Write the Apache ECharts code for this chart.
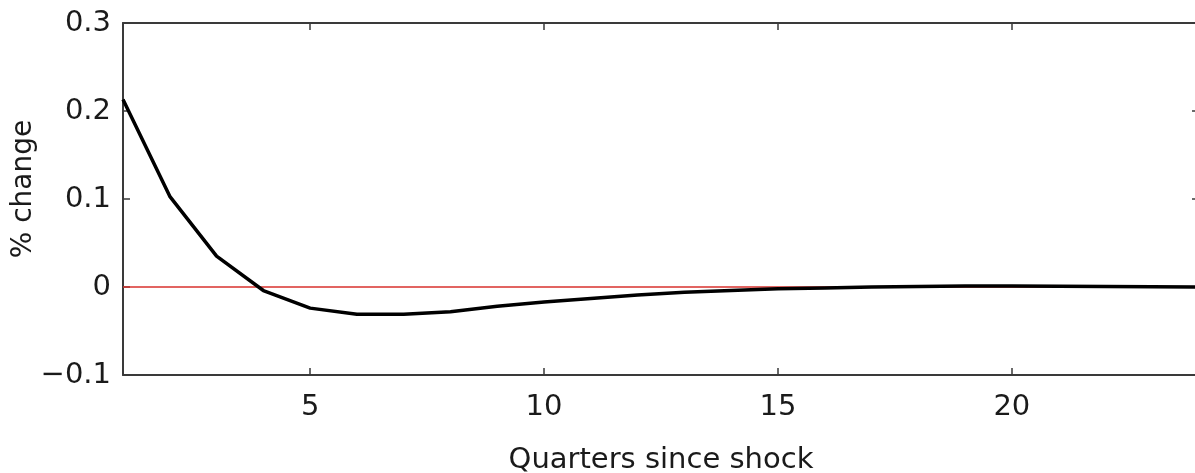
<!DOCTYPE html>
<html>
<head>
<meta charset="utf-8">
<script src="https://cdn.jsdelivr.net/npm/echarts@6/dist/echarts.min.js"></script>
<style>html,body{margin:0;padding:0;background:#fff;}#c{width:1195px;height:473px;}</style>
</head>
<body>
<div id="c"></div>
<script>
var quarters = [1,2,3,4,5,6,7,8,9,10,11,12,13,14,15,16,17,18,19,20,21,22,23,24];
var response = [0.213,0.103,0.035,-0.004,-0.024,-0.031,-0.031,-0.028,-0.022,-0.017,-0.013,-0.009,-0.006,-0.004,-0.002,-0.001,0.0,0.0005,0.001,0.001,0.0008,0.0005,0.0003,0.0];
var xTicks = [5,10,15,20];
var yTicks = [-0.1,0,0.1,0.2,0.3];
var zeroLine = [[1,0],[24,0]];

var font = '"DejaVu Sans", Verdana, sans-serif';
var axisCol = '#3a3a3a';
var txtCol = '#1a1a1a';
var chart = echarts.init(document.getElementById('c'));
function yFmt(v){ if (Math.abs(v) < 1e-9) return '0'; var s = (Math.round(v*10)/10).toFixed(1); return s.replace('-', '\u2212'); }
chart.setOption({
  animation: false,
  backgroundColor: '#fff',
  grid: { left: 123, top: 23, width: 1076, height: 352, containLabel: false, outerBoundsMode: 'none' },
  xAxis: [{
    type: 'value', min: 1, max: 24, position: 'bottom',
    name: 'Quarters since shock', nameLocation: 'middle', nameGap: 71, nameMoveOverlap: false,
    nameTextStyle: { fontFamily: font, fontSize: 29, color: txtCol },
    axisLine: { show: true, onZero: false, lineStyle: { color: axisCol, width: 2 } },
    axisTick: { show: true, inside: true, length: 7, lineStyle: { color: axisCol, width: 1.5 }, customValues: xTicks },
    axisLabel: { show: true, fontFamily: font, fontSize: 29, color: txtCol, margin: 18, customValues: xTicks },
    splitLine: { show: false }
  }, {
    type: 'value', min: 1, max: 24, position: 'top',
    axisLine: { show: true, onZero: false, lineStyle: { color: axisCol, width: 2 } },
    axisTick: { show: true, inside: true, length: 7, lineStyle: { color: axisCol, width: 1.5 }, customValues: xTicks },
    axisLabel: { show: false },
    splitLine: { show: false }
  }],
  yAxis: [{
    type: 'value', min: -0.1, max: 0.3, interval: 0.1, position: 'left',
    name: '% change', nameLocation: 'middle', nameGap: 85, nameRotate: 90, nameMoveOverlap: false,
    nameTextStyle: { fontFamily: font, fontSize: 28, color: txtCol, padding: [0, 0, 0, 20] },
    axisLine: { show: true, onZero: false, lineStyle: { color: axisCol, width: 2 } },
    axisTick: { show: true, inside: true, length: 7, lineStyle: { color: axisCol, width: 1.5 } },
    axisLabel: { fontFamily: font, fontSize: 29, color: txtCol, margin: 12, formatter: yFmt },
    splitLine: { show: false }
  }, {
    type: 'value', min: -0.1, max: 0.3, interval: 0.1, position: 'right',
    axisLine: { show: true, onZero: false, lineStyle: { color: axisCol, width: 2 } },
    axisTick: { show: true, inside: true, length: 7, lineStyle: { color: axisCol, width: 1.5 } },
    axisLabel: { show: false },
    splitLine: { show: false }
  }],
  series: [{
    type: 'line', data: zeroLine, symbol: 'none', silent: true,
    lineStyle: { color: '#d9302c', width: 1.5 }, z: 2
  }, {
    type: 'line', data: quarters.map(function(q,i){ return [q, response[i]]; }),
    symbol: 'none', smooth: false, silent: true,
    lineStyle: { color: '#000', width: 3.5 }, z: 3
  }]
});
</script>
</body>
</html>
